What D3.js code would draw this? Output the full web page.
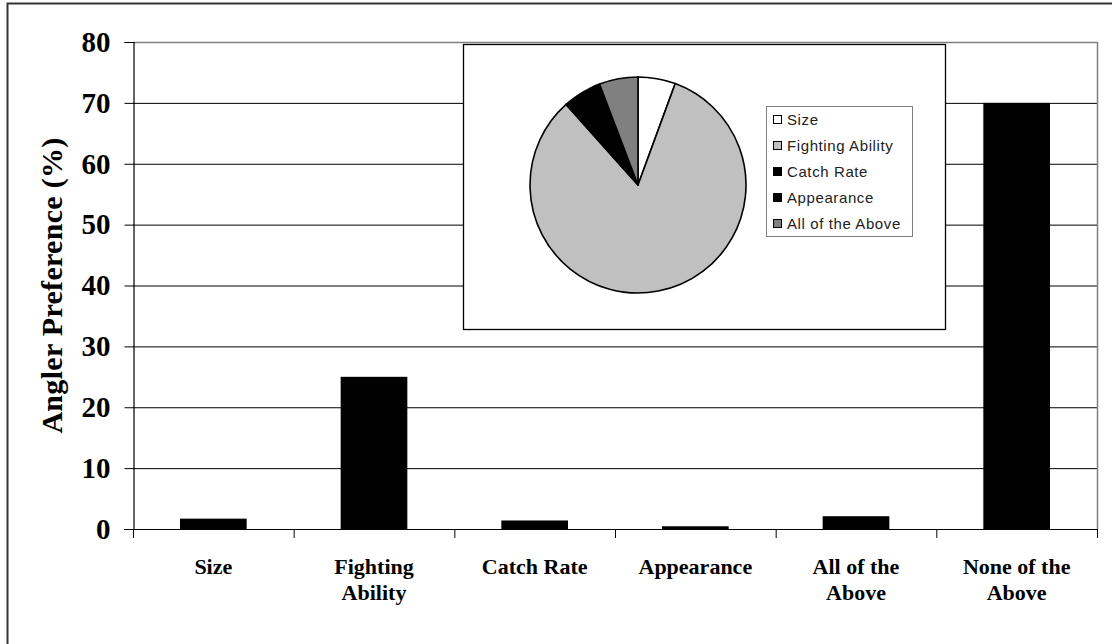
<!DOCTYPE html>
<html lang="en">
<head>
<meta charset="UTF-8"/>
<script src="https://d3js.org/d3.v7.min.js"></script>
<title>Angler Preference</title>
<style>
  body { margin: 0; background: #fff; }
  svg { display: block; }
</style>
</head>
<body>
<script type="text/javascript">
    // values
    var categories  = ["Size", "Fighting Ability", "Catch Rate", "Appearance", "All of the Above", "None of the Above"];
    var labelLines  = [["Size"], ["Fighting", "Ability"], ["Catch Rate"], ["Appearance"], ["All of the", "Above"], ["None of the", "Above"]];
    var preference  = [1.7, 25, 1.4, 0.45, 2.1, 70];
    var yTicks      = [0, 10, 20, 30, 40, 50, 60, 70, 80];

    // inset pie (shares of the answers other than "None of the Above")
    var pieCats     = ["Size", "Fighting Ability", "Catch Rate", "Appearance", "All of the Above"];
    var pieValues   = [5.6, 82.8, 4.4, 1.4, 5.8];
    var pieColors   = ["#ffffff", "#c0c0c0", "#000000", "#000000", "#808080"];

    var w = 1112, h = 644;
    var plot = {left: 133, right: 1097, top: 42, bottom: 529};
    var serif = "'Liberation Serif', 'Times New Roman', serif";
    var sans  = "'Liberation Sans', Arial, sans-serif";

    var svg = d3.select("body").append("svg")
                .attr("width", w)
                .attr("height", h);

    // outer chart border
    svg.append("rect")
       .attr("x", 7.5).attr("y", 3.5)
       .attr("width", w + 10).attr("height", h + 10)
       .attr("fill", "#fff")
       .attr("stroke", "#333").attr("stroke-width", 2);

    var xScale = d3.scaleBand()
                   .domain(categories)
                   .range([plot.left, plot.right])
                   .paddingInner(0.585)
                   .paddingOuter(0.2925);

    var yScale = d3.scaleLinear()
                   .domain([0, 80])
                   .range([plot.bottom, plot.top]);

    // gridlines
    svg.append("g")
       .selectAll("line")
       .data(yTicks.filter(function(d) { return d > 0 && d < 80; }))
       .enter().append("line")
       .attr("x1", plot.left).attr("x2", plot.right)
       .attr("y1", function(d) { return yScale(d) + 0.5; })
       .attr("y2", function(d) { return yScale(d) + 0.5; })
       .attr("stroke", "#000").attr("stroke-width", 1);

    // plot area frame (top and right in gray)
    svg.append("path")
       .attr("d", "M" + plot.left + "," + (plot.top + 0.5) + "H" + (plot.right + 0.5) + "V" + plot.bottom)
       .attr("fill", "none")
       .attr("stroke", "#808080").attr("stroke-width", 1.5);

    // bars
    svg.append("g")
       .selectAll("rect")
       .data(preference)
       .enter().append("rect")
       .attr("x", function(d, i) { return xScale(categories[i]); })
       .attr("width", xScale.bandwidth())
       .attr("y", function(d) { return yScale(d); })
       .attr("height", function(d) { return plot.bottom - yScale(d); })
       .attr("fill", "#000");

    // y axis
    var yAxis = d3.axisLeft(yScale)
                  .tickValues(yTicks)
                  .tickSize(9)
                  .tickPadding(14);

    var gy = svg.append("g")
                .attr("transform", "translate(" + (plot.left + 0.5) + ",0)")
                .call(yAxis);
    gy.select(".domain").attr("stroke", "#000").attr("stroke-width", 1.2);
    gy.selectAll(".tick line").attr("stroke", "#000");
    gy.selectAll("text")
      .attr("font-family", serif)
      .attr("font-weight", "bold")
      .attr("font-size", 29)
      .attr("fill", "#000");

    // x axis: ticks at the category boundaries
    var bounds = d3.range(categories.length + 1).map(function(i) { return plot.left + i * (plot.right - plot.left) / categories.length; });

    svg.append("line")
       .attr("x1", plot.left - 9).attr("x2", plot.right + 1)
       .attr("y1", plot.bottom + 0.5).attr("y2", plot.bottom + 0.5)
       .attr("stroke", "#000").attr("stroke-width", 1.2);

    svg.append("g")
       .selectAll("line")
       .data(bounds)
       .enter().append("line")
       .attr("x1", function(d) { return d + 0.5; })
       .attr("x2", function(d) { return d + 0.5; })
       .attr("y1", plot.bottom).attr("y2", plot.bottom + 9)
       .attr("stroke", "#000");

    var xl = svg.append("g")
                .selectAll("text")
                .data(categories)
                .enter().append("text")
                .attr("x", function(d) { return xScale(d) + xScale.bandwidth() / 2; })
                .attr("y", 574)
                .attr("text-anchor", "middle")
                .attr("font-family", serif)
                .attr("font-weight", "bold")
                .attr("font-size", 22)
                .attr("fill", "#000");

    xl.selectAll("tspan")
      .data(function(d, i) { return labelLines[i]; })
      .enter().append("tspan")
      .attr("x", function() { return this.parentNode.getAttribute("x"); })
      .attr("dy", function(d, j) { return j === 0 ? 0 : 26; })
      .text(function(d) { return d; });

    // y title
    svg.append("text")
       .attr("transform", "translate(62," + ((plot.top + plot.bottom) / 2) + ") rotate(-90)")
       .attr("text-anchor", "middle")
       .attr("font-family", serif)
       .attr("font-weight", "bold")
       .attr("font-size", 30)
       .attr("letter-spacing", 0.3)
       .attr("fill", "#000")
       .text("Angler Preference (%)");

    // inset pie chart
    var inset = {x: 463.5, y: 44.5, w: 482, h: 285};
    svg.append("rect")
       .attr("x", inset.x).attr("y", inset.y)
       .attr("width", inset.w).attr("height", inset.h)
       .attr("fill", "#fff")
       .attr("stroke", "#000").attr("stroke-width", 1.3);

    var pie = d3.pie().sort(null);
    var arc = d3.arc().innerRadius(0).outerRadius(108);

    var pieG = svg.append("g")
                  .attr("transform", "translate(638,185)");

    pieG.selectAll("path")
        .data(pie(pieValues))
        .enter().append("path")
        .attr("d", arc)
        .attr("fill", function(d, i) { return pieColors[i]; })
        .attr("stroke", "#000")
        .attr("stroke-width", 1.6)
        .attr("stroke-linejoin", "round");

    // legend
    var legend = svg.append("g").attr("transform", "translate(766,106)");
    legend.append("rect")
          .attr("x", 0.5).attr("y", 0.5)
          .attr("width", 146).attr("height", 130)
          .attr("fill", "#fff")
          .attr("stroke", "#808080").attr("stroke-width", 1);

    var items = legend.selectAll("g.item")
                      .data(pieCats)
                      .enter().append("g")
                      .attr("class", "item")
                      .attr("transform", function(d, i) { return "translate(0," + (13 + i * 26) + ")"; });

    items.append("rect")
         .attr("x", 7.5).attr("y", -3.5)
         .attr("width", 8).attr("height", 8)
         .attr("fill", function(d, i) { return pieColors[i]; })
         .attr("stroke", "#000").attr("stroke-width", 1);

    items.append("text")
         .attr("x", 21).attr("y", 5.5)
         .attr("font-family", sans)
         .attr("font-size", 15)
         .attr("letter-spacing", 0.6)
         .attr("fill", "#222")
         .text(function(d) { return d; });
</script>
</body>
</html>
